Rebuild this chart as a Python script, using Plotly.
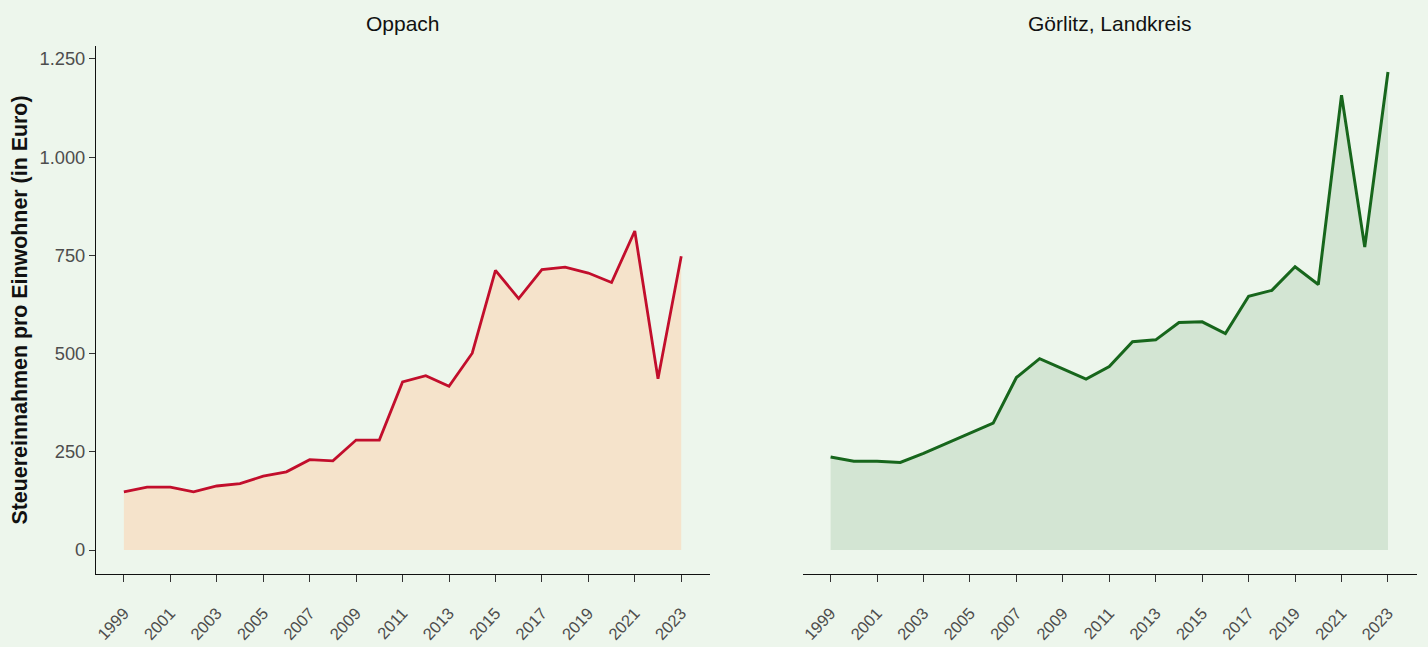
import plotly.graph_objects as go
from plotly.subplots import make_subplots

years = list(range(1999, 2024))
oppach = [148, 160, 160, 148, 163, 169, 188, 199, 230, 227, 280, 280, 428, 444, 417, 501,
          712, 640, 714, 720, 705, 681, 812, 436, 748]
goerlitz = [237, 226, 226, 223, 246, 272, 297, 323, 439, 487, 461, 435, 467, 530, 535, 579,
            581, 551, 646, 661, 721, 676, 1158, 771, 1217]
panel_titles = ["Oppach", "Görlitz, Landkreis"]
y_ticks = [0, 250, 500, 750, 1000, 1250]
y_tick_text = ["0", "250", "500", "750", "1.000", "1.250"]
x_ticks = list(range(1999, 2024, 2))

BG = "#EDF6EC"
FONT = "Liberation Sans, Arial"

fig = make_subplots(rows=1, cols=2, horizontal_spacing=0.07)

fig.add_trace(go.Scatter(x=years, y=oppach, mode="lines", fill="tozeroy",
                         fillcolor="#F5E3CB", line=dict(color="#C20E2C", width=2.8),
                         showlegend=False, hoverinfo="x+y"), row=1, col=1)
fig.add_trace(go.Scatter(x=years, y=goerlitz, mode="lines", fill="tozeroy",
                         fillcolor="#D3E5D3", line=dict(color="#17661C", width=3),
                         showlegend=False, hoverinfo="x+y"), row=1, col=2)

fig.update_xaxes(range=[1997.8, 2024.25], tickmode="array", tickvals=x_ticks,
                 ticktext=[str(v) for v in x_ticks], tickangle=-47,
                 ticks="outside", ticklen=7, tickwidth=1.3, tickcolor="#333333",
                 ticklabelstandoff=15, automargin=False,
                 showline=True, linecolor="#111111", linewidth=1.2,
                 showgrid=False, zeroline=False,
                 tickfont=dict(family=FONT, size=16.5, color="#4D4D4D"))

fig.update_yaxes(range=[-61, 1283], tickmode="array", tickvals=y_ticks, ticktext=y_tick_text,
                 ticks="outside", ticklen=6, tickwidth=1.3, tickcolor="#333333",
                 showline=True, linecolor="#111111", linewidth=1.2,
                 showgrid=False, zeroline=False, automargin=False,
                 tickfont=dict(family=FONT, size=18.3, color="#4D4D4D"),
                 title=dict(text="<b>Steuereinnahmen pro Einwohner (in Euro)</b>",
                            font=dict(family=FONT, size=21.4, color="#111111"),
                            standoff=6),
                 row=1, col=1)
fig.update_yaxes(range=[-61, 1283], showline=False, showticklabels=False, ticks="",
                 showgrid=False, zeroline=False, row=1, col=2)

for i, t in enumerate(panel_titles):
    dom = fig.layout["xaxis" if i == 0 else "xaxis2"].domain
    fig.add_annotation(text=t, x=(dom[0] + dom[1]) / 2, y=1.0, xref="paper", yref="paper",
                       xanchor="center", yanchor="bottom", yshift=9, showarrow=False,
                       font=dict(family=FONT, size=21, color="#111111"))

fig.update_layout(width=1428, height=647, paper_bgcolor=BG, plot_bgcolor=BG,
                  margin=dict(l=96, r=11, t=46, b=73),
                  font=dict(family=FONT))

fig.write_html("out.html", config={"displayModeBar": False},
               post_script="document.body.style.margin='0';document.body.style.overflow='hidden';")
